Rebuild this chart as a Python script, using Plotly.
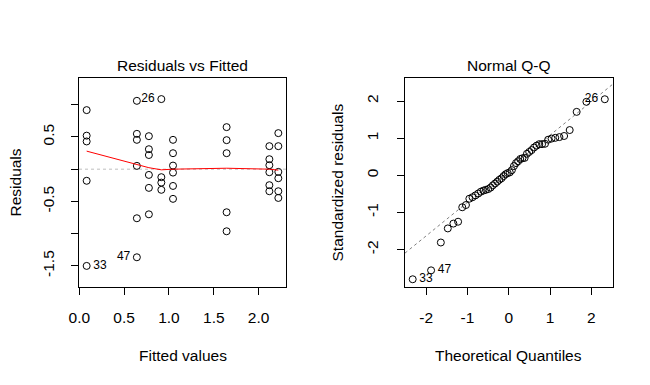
import numpy as np
import plotly.graph_objects as go
from statistics import NormalDist

# ---------------- data ----------------
fitted_levels = [0.082, 0.642, 0.776, 0.915, 1.045, 1.643, 2.12, 2.22]
residuals_by_level = [
    [0.916, 0.52, 0.43, -0.18, -1.50],
    [1.06, 0.548, 0.455, 0.051, -0.761, -1.366],
    [0.512, 0.31, 0.22, -0.089, -0.29, -0.70],
    [1.087, -0.124, -0.208, -0.32],
    [0.455, 0.248, 0.056, -0.053, -0.26, -0.46],
    [0.652, 0.45, 0.248, -0.668, -0.963],
    [0.357, 0.155, 0.062, -0.047, -0.248, -0.342],
    [0.559, 0.357, -0.042, -0.14, -0.342, -0.446],
]
# labelled observations: (level index, position in level, id)
resid_labels = [(3, 0, "26"), (1, 5, "47"), (0, 4, "33")]
lowess_values = [0.28, 0.065, 0.023, -0.01, 0.0, 0.015, 0.0, -0.015]

std_residuals = [
    -2.80, -2.56, -1.81, -1.43, -1.30, -1.25, -0.86, -0.80, -0.63, -0.59,
    -0.54, -0.49, -0.44, -0.41, -0.39, -0.37, -0.33, -0.27, -0.22, -0.17,
    -0.12, -0.08, -0.02, 0.03, 0.06, 0.08, 0.14, 0.25, 0.33, 0.38,
    0.44, 0.46, 0.47, 0.58, 0.63, 0.68, 0.75, 0.80, 0.84, 0.84,
    0.85, 0.96, 0.99, 1.01, 1.03, 1.06, 1.22, 1.71, 1.98, 2.05,
]
qq_labels = {0: "33", 1: "47", 49: "26"}

left_yticks = [-1.5, -1.0, -0.5, 0.0, 0.5, 1.0]
left_yticktext = ["-1.5", "", "-0.5", "", "0.5", ""]
left_xticks = [0.0, 0.5, 1.0, 1.5, 2.0]
left_xticktext = ["0.0", "0.5", "1.0", "1.5", "2.0"]
right_ticks = [-2, -1, 0, 1, 2]
right_ticktext = ["-2", "-1", "0", "1", "2"]

# ---------------- derived ----------------
fitted = []
resid = []
for lv, rs in zip(fitted_levels, residuals_by_level):
    for r in rs:
        fitted.append(lv)
        resid.append(r)


def pad(lo, hi, f=0.04):
    d = hi - lo
    return [lo - f * d, hi + f * d]


xlim1 = pad(min(fitted), max(fitted))
ylo, yhi = pad(min(resid), max(resid), 0.08)
ylim1 = pad(ylo, yhi)

n = len(std_residuals)
theo = [NormalDist().inv_cdf((i + 0.5) / n) for i in range(n)]
xlim2 = pad(min(theo), max(theo))
y2lo, y2hi = min(std_residuals), max(std_residuals)
y2hi = y2hi + 0.075 * (y2hi - y2lo)
ylim2 = pad(y2lo, y2hi)

q1, q3 = np.percentile(std_residuals, [25, 75])
t1, t3 = NormalDist().inv_cdf(0.25), NormalDist().inv_cdf(0.75)
slope = (q3 - q1) / (t3 - t1)
intercept = q1 - slope * t1

FONT = "Liberation Sans, Arial, sans-serif"
FS = 15.5
# The page body keeps the browser's default 8px margin, so the figure is
# drawn 8px in from the top-left corner of the 650x385 window.
OFF = 8
W, H = 650 - 2 * OFF, 385 - 2 * OFF


def px(xp):
    return (xp - OFF) / W


def py(yp):
    return 1 - (yp - OFF) / H


fig = go.Figure()

marker_style = dict(symbol="circle-open", size=7, color="black",
                    line=dict(width=1, color="black"))
label_font = dict(family=FONT, size=12, color="black")
ghost_marker = dict(size=9, opacity=0)

# zero reference line (left)
fig.add_trace(go.Scatter(x=xlim1, y=[0, 0], mode="lines",
                         line=dict(color="#BEBEBE", width=1, dash="dot"),
                         xaxis="x", yaxis="y", hoverinfo="skip"))
# points (left)
fig.add_trace(go.Scatter(x=fitted, y=resid, mode="markers", marker=marker_style,
                         xaxis="x", yaxis="y"))
# lowess (left)
fig.add_trace(go.Scatter(x=fitted_levels, y=lowess_values, mode="lines",
                         line=dict(color="red", width=1),
                         xaxis="x", yaxis="y"))
# labels (left)
lab_x = [fitted_levels[a] for a, _, _ in resid_labels]
mid = (min(lab_x) + max(lab_x)) / 2
for li, pi, lab in resid_labels:
    xv = fitted_levels[li]
    yv = residuals_by_level[li][pi]
    pos = "middle left" if xv > mid else "middle right"
    fig.add_trace(go.Scatter(x=[xv], y=[yv], mode="markers+text", text=[lab],
                             marker=ghost_marker,
                             textposition=pos, textfont=label_font,
                             xaxis="x", yaxis="y"))

# qq line (right)
fig.add_trace(go.Scatter(x=xlim2, y=[intercept + slope * v for v in xlim2],
                         mode="lines",
                         line=dict(color="#808080", width=1, dash="dot"),
                         xaxis="x2", yaxis="y2"))
fig.add_trace(go.Scatter(x=theo, y=std_residuals, mode="markers",
                         marker=marker_style, xaxis="x2", yaxis="y2"))
for idx, lab in qq_labels.items():
    pos = "middle left" if theo[idx] > 0 else "middle right"
    fig.add_trace(go.Scatter(x=[theo[idx]], y=[std_residuals[idx]],
                             mode="markers+text", marker=ghost_marker,
                             text=[lab], textposition=pos, textfont=label_font,
                             xaxis="x2", yaxis="y2"))

box_l1, box_r1 = px(79), px(286)
box_l2, box_r2 = px(405), px(612.5)
box_b, box_t = py(287), py(78)

axis_common = dict(showgrid=False, zeroline=False, showline=True, mirror=True,
                   linecolor="black", linewidth=1, ticks="outside", ticklen=7,
                   tickcolor="black", tickwidth=1, automargin=False,
                   tickfont=dict(family=FONT, size=FS, color="black"))

fig.update_layout(
    width=W, height=H, showlegend=False, autosize=False,
    paper_bgcolor="white", plot_bgcolor="white",
    margin=dict(l=0, r=0, t=0, b=0, pad=0, autoexpand=False),
    xaxis=dict(domain=[box_l1, box_r1], range=xlim1, tickmode="array",
               tickvals=left_xticks, ticktext=left_xticktext,
               ticklabelstandoff=9, anchor="y", **axis_common),
    yaxis=dict(domain=[box_b, box_t], range=ylim1, tickmode="array",
               tickvals=left_yticks, ticktext=left_yticktext, tickangle=-90,
               ticklabelstandoff=11, anchor="x", **axis_common),
    xaxis2=dict(domain=[box_l2, box_r2], range=xlim2, tickmode="array",
                tickvals=right_ticks, ticktext=right_ticktext,
                ticklabelstandoff=9, anchor="y2", **axis_common),
    yaxis2=dict(domain=[box_b, box_t], range=ylim2, tickmode="array",
                tickvals=right_ticks, ticktext=right_ticktext, tickangle=-90,
                ticklabelstandoff=13, anchor="x2", **axis_common),
)

tfont = dict(family=FONT, size=FS, color="black")
annots = [
    dict(text="Residuals vs Fitted", x=(box_l1 + box_r1) / 2, y=py(66)),
    dict(text="Normal Q-Q", x=(box_l2 + box_r2) / 2, y=py(66)),
    dict(text="Fitted values", x=(box_l1 + box_r1) / 2, y=py(355)),
    dict(text="Theoretical Quantiles", x=(box_l2 + box_r2) / 2, y=py(355)),
    dict(text="Residuals", x=px(15), y=(box_b + box_t) / 2, textangle=-90),
    dict(text="Standardized residuals", x=px(337), y=(box_b + box_t) / 2, textangle=-90),
]
for a in annots:
    fig.add_annotation(xref="paper", yref="paper", showarrow=False,
                       xanchor="center", yanchor="middle", font=tfont, **a)

fig.write_html("out.html", config={"displayModeBar": False})
